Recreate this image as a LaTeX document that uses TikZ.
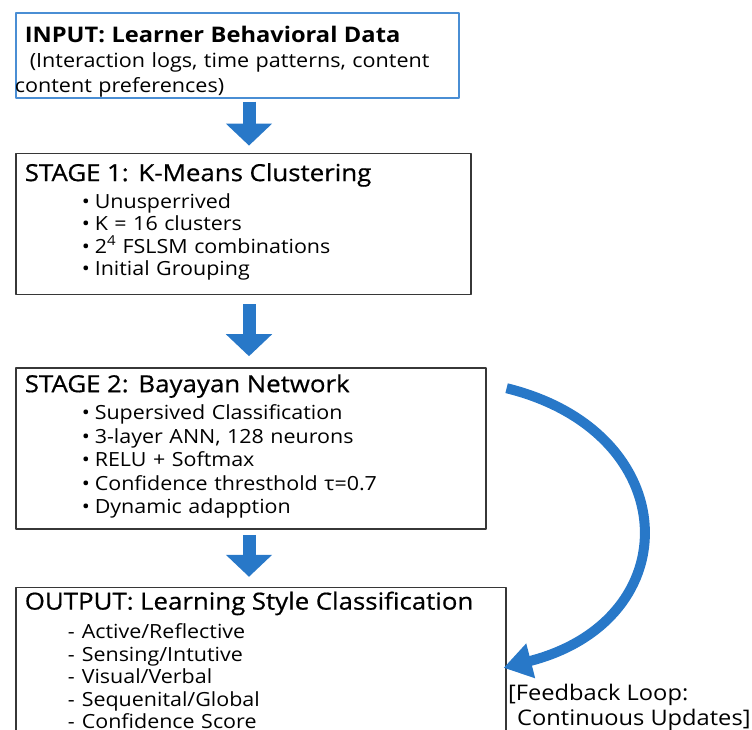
\documentclass[tikz,border=0pt]{standalone}
\usepackage{fontspec}
\setmainfont{Open Sans}[FakeStretch=1.1]
\newfontfamily\titleface{Open Sans}[FakeStretch=1.1, FakeBold=0.6]
\usetikzlibrary{arrows.meta,positioning,calc}

\definecolor{FlowBlue}{RGB}{40,120,200}
\definecolor{InBlue}{RGB}{74,142,212}
\definecolor{EdgeGray}{RGB}{55,55,55}

\newcommand\titlesize{\fontsize{23.5}{23}\titleface}
\newcommand\itemsize{\fontsize{19.5}{22.5}\selectfont}
\newcommand\bul{\hspace*{57pt}\makebox[13pt][l]{•}}
\newcommand\dsh{\hspace*{43pt}\makebox[14pt][l]{-}}

\begin{document}
\begin{tikzpicture}[x=1pt, y=-1pt, line cap=round, line join=round]

		% Styles
		\tikzset{
			box/.style={
				draw=EdgeGray, line width=1.6pt, fill=white, anchor=north west,
				align=left, inner xsep=9pt, inner ysep=0pt, font=\itemsize
			},
			inbox/.style={box, draw=InBlue},
			flow/.style={-{Triangle[length=22pt, width=45pt]}, line width=13pt, draw=FlowBlue, line cap=butt},
			loop/.style={-{Triangle[length=28pt, width=34pt]}, line width=10pt, draw=FlowBlue, line cap=butt},
			note/.style={font=\fontsize{21.5}{25}\selectfont, align=left, anchor=north west, inner sep=0pt}
		}

		\useasboundingbox (0,0) rectangle (752,730);

		% Boxes
		\node[inbox, minimum width=443pt, minimum height=85pt, text width=425pt,
			font=\fontsize{19.6}{25}\selectfont] (input) at (15,12)
		{\rule{0pt}{29pt}{\fontsize{21.5}{23}\selectfont\bfseries INPUT: Learner Behavioral Data}\\
			\hspace*{5pt}(Interaction logs, time patterns, content\\
			\hspace*{-10pt}content preferences)};

		\node[box, below=54pt of input.south west, anchor=north west,
			minimum width=455pt, minimum height=141pt, text width=437pt] (stage1)
		{{\titlesize STAGE 1: K-Means Clustering}\\[4.5pt]
			\bul Unusperrived\\
			\bul K = 16 clusters\\
			\bul 2\textsuperscript{4} FSLSM combinations\\
			\bul Initial Grouping\rule[-9pt]{0pt}{9pt}};

		\node[box, below=72pt of stage1.south west, anchor=north west,
			minimum width=470pt, minimum height=161pt, text width=452pt,
			font=\fontsize{19.5}{23.5}\selectfont] (stage2)
		{{\titlesize STAGE 2: Bayayan Network}\\[4pt]
			\bul Supersived Classification\\
			\bul 3-layer ANN, 128 neurons\\
			\bul RELU + Softmax\\
			\bul Confidence thresthold τ=0.7\\
			\bul Dynamic adapption\rule[-9pt]{0pt}{9pt}};

		\node[box, below=57pt of stage2.south west, anchor=north west,
			minimum width=490pt, minimum height=156pt, text width=472pt] (output)
		{{\titlesize OUTPUT: Learning Style Classification}\\[6.5pt]
			\dsh Active/Reflective\\
			\dsh Sensing/Intutive\\
			\dsh Visual/Verbal\\
			\dsh Sequenital/Global\\
			\dsh Confidence Score\rule[-11pt]{0pt}{11pt}};

		% Feedback note
		\node[note] (fbnote) at (508,684)
		{[Feedback Loop:\\\hspace*{9pt}Continuous Updates]};

		% Arrows
		\coordinate (ax) at (249,0);
		\draw[flow, shorten <=3pt, shorten >=7pt] (input.south -| ax) -- (stage1.north -| ax);
		\draw[flow, shorten <=9pt, shorten >=11pt] (stage1.south -| ax) -- (stage2.north -| ax);
		\draw[flow, shorten <=5pt, shorten >=10pt] (stage2.south -| ax) -- (output.north -| ax);

		\coordinate (fbstart) at ($(stage2.north east)+(20,21)$);
		\coordinate (fbend) at ($(output.north east)+(-3,81)$);
		\draw[loop] (fbstart) .. controls (684,432) and (690,620) .. (fbend);

	\end{tikzpicture}
\end{document}
